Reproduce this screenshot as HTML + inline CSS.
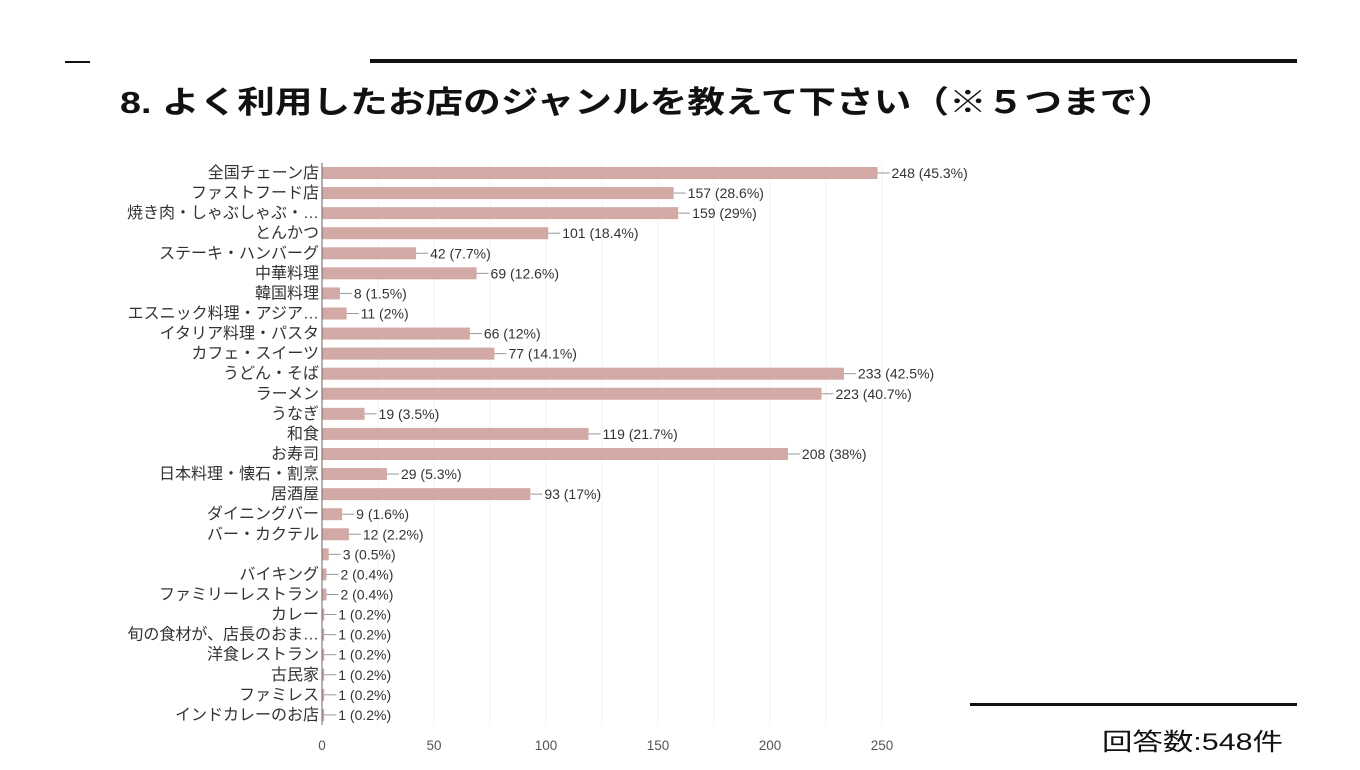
<!DOCTYPE html>
<html><head><meta charset="utf-8"><style>
body{margin:0;background:#fff;width:1360px;height:765px;overflow:hidden}
text{font-family:"Liberation Sans","Noto Sans CJK JP",sans-serif}
</style></head><body>
<svg width="1360" height="765" xmlns="http://www.w3.org/2000/svg" id="s">
<rect x="65" y="61" width="25" height="2" fill="#111"/>
<rect x="370" y="59" width="927" height="4" fill="#111"/>
<text x="120" y="113" font-size="31" font-weight="bold" fill="#111" textLength="1055" lengthAdjust="spacingAndGlyphs">8. よく利用したお店のジャンルを教えて下さい（※５つまで）</text>
<rect x="970" y="703" width="327" height="3" fill="#111"/>
<text x="1102" y="750" font-size="24" fill="#111" textLength="181" lengthAdjust="spacingAndGlyphs">回答数:548件</text>
<g id="g"></g>
</svg>
<script>
var d=[["全国チェーン店",248,"45.3%"],["ファストフード店",157,"28.6%"],["焼き肉・しゃぶしゃぶ・…",159,"29%"],["とんかつ",101,"18.4%"],["ステーキ・ハンバーグ",42,"7.7%"],["中華料理",69,"12.6%"],["韓国料理",8,"1.5%"],["エスニック料理・アジア…",11,"2%"],["イタリア料理・パスタ",66,"12%"],["カフェ・スイーツ",77,"14.1%"],["うどん・そば",233,"42.5%"],["ラーメン",223,"40.7%"],["うなぎ",19,"3.5%"],["和食",119,"21.7%"],["お寿司",208,"38%"],["日本料理・懐石・割烹",29,"5.3%"],["居酒屋",93,"17%"],["ダイニングバー",9,"1.6%"],["バー・カクテル",12,"2.2%"],["",3,"0.5%"],["バイキング",2,"0.4%"],["ファミリーレストラン",2,"0.4%"],["カレー",1,"0.2%"],["旬の食材が、店長のおま…",1,"0.2%"],["洋食レストラン",1,"0.2%"],["古民家",1,"0.2%"],["ファミレス",1,"0.2%"],["インドカレーのお店",1,"0.2%"]];
var x0=322,k=2.24,h='';
for(var t=25;t<=250;t+=25){var x=x0+t*k;h+='<line x1="'+x+'" y1="163" x2="'+x+'" y2="725" stroke="#f3f3f3" stroke-width="1"/>';}
for(var t=0;t<=250;t+=50){h+='<text x="'+(x0+t*k)+'" y="750" font-size="13.5" fill="#555" text-anchor="middle">'+t+'</text>';}
d.forEach(function(r,i){var y=173+i*20.07,w=r[1]*k;
h+='<rect x="'+x0+'" y="'+(y-6)+'" width="'+w+'" height="12" fill="#d3a9a6"/>';
h+='<line x1="'+(x0+w)+'" y1="'+y+'" x2="'+(x0+w+12)+'" y2="'+y+'" stroke="#999"/>';
h+='<text x="'+(x0+w+14)+'" y="'+(y+5)+'" font-size="14" fill="#333">'+r[1]+' ('+r[2]+')</text>';
h+='<text x="'+(x0-3)+'" y="'+(y+5)+'" font-size="16" fill="#333" text-anchor="end">'+r[0]+'</text>';});
h+='<line x1="'+x0+'" y1="163" x2="'+x0+'" y2="725" stroke="#666" stroke-width="1"/>';
document.getElementById('g').innerHTML=h;
</script>
</body></html>
